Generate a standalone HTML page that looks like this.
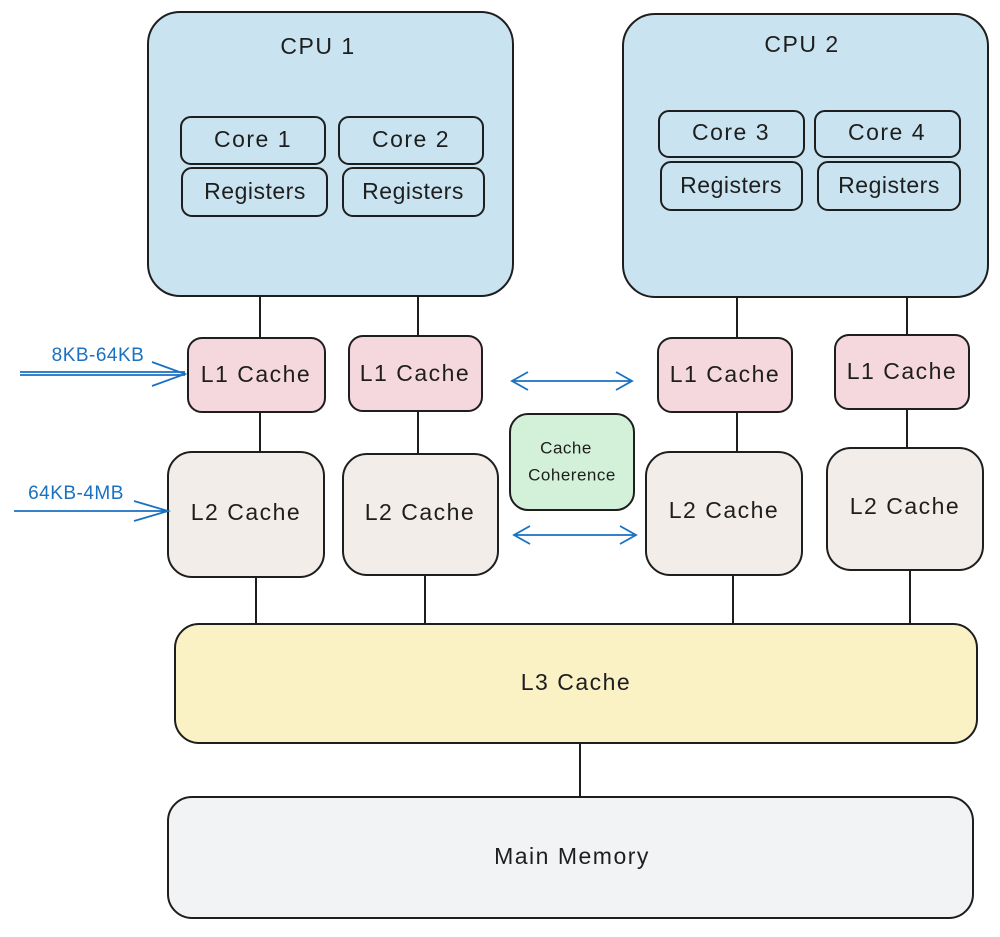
<!DOCTYPE html>
<html><head><meta charset="utf-8"><style>
body{margin:0;background:#fff}
svg text{font-family:"Liberation Sans",sans-serif;fill:#1e1e1e;text-anchor:middle;dominant-baseline:middle;letter-spacing:1.5px}
</style></head><body>
<svg width="1000" height="932" viewBox="0 0 1000 932" xmlns="http://www.w3.org/2000/svg">
<g stroke="#1e1e1e" stroke-width="2">
<line x1="260" y1="216" x2="260" y2="338"/><line x1="260" y1="412" x2="260" y2="452"/><line x1="256" y1="577" x2="256" y2="624"/>
<line x1="418" y1="216" x2="418" y2="336"/><line x1="418" y1="411" x2="418" y2="454"/><line x1="425" y1="575" x2="425" y2="624"/>
<line x1="737" y1="210" x2="737" y2="338"/><line x1="737" y1="412" x2="737" y2="452"/><line x1="733" y1="575" x2="733" y2="624"/>
<line x1="907" y1="210" x2="907" y2="335"/><line x1="907" y1="409" x2="907" y2="448"/><line x1="910" y1="570" x2="910" y2="624"/>
<line x1="580" y1="743" x2="580" y2="797"/>
<rect x="148" y="12" width="365" height="284" rx="32" fill="#c9e4f0"/>
<rect x="623" y="14" width="365" height="283" rx="32" fill="#c9e4f0"/>
<rect x="181" y="117" width="144" height="47" rx="10" fill="#c9e4f0"/>
<rect x="339" y="117" width="144" height="47" rx="10" fill="#c9e4f0"/>
<rect x="182" y="168" width="145" height="48" rx="10" fill="#c9e4f0"/>
<rect x="343" y="168" width="141" height="48" rx="10" fill="#c9e4f0"/>
<rect x="659" y="111" width="145" height="46" rx="10" fill="#c9e4f0"/>
<rect x="815" y="111" width="145" height="46" rx="10" fill="#c9e4f0"/>
<rect x="661" y="162" width="141" height="48" rx="10" fill="#c9e4f0"/>
<rect x="818" y="162" width="142" height="48" rx="10" fill="#c9e4f0"/>
<rect x="188" y="338" width="137" height="74" rx="14" fill="#f4d8dd"/>
<rect x="349" y="336" width="133" height="75" rx="14" fill="#f4d8dd"/>
<rect x="658" y="338" width="134" height="74" rx="14" fill="#f4d8dd"/>
<rect x="835" y="335" width="134" height="74" rx="14" fill="#f4d8dd"/>
<rect x="168" y="452" width="156" height="125" rx="24" fill="#f2ede8"/>
<rect x="343" y="454" width="155" height="121" rx="24" fill="#f2ede8"/>
<rect x="646" y="452" width="156" height="123" rx="24" fill="#f2ede8"/>
<rect x="827" y="448" width="156" height="122" rx="24" fill="#f2ede8"/>
<rect x="510" y="414" width="124" height="96" rx="18" fill="#d3f0d9"/>
<rect x="175" y="624" width="802" height="119" rx="24" fill="#faf2c4"/>
<rect x="168" y="797" width="805" height="121" rx="24" fill="#f1f3f5"/>
</g>
<g stroke="#1971c2" stroke-width="1.8" fill="none">
<path d="M512 381H632M528 372L512 381L528 390M616 372L632 381L616 390"/>
<path d="M514 535H636M530 526L514 535L530 544M620 526L636 535L620 544"/>
<path d="M20 372H185M20 375H185M152 362L185 374L152 386"/>
<path d="M14 511H168M134 501L168 511L134 521"/>
</g>
<text x="98" y="356" font-size="19" style="fill:#1971c2;letter-spacing:0.5px">8KB-64KB</text>
<text x="76" y="494" font-size="19" style="fill:#1971c2;letter-spacing:0.5px">64KB-4MB</text>
<g font-size="23">
<text x="318" y="48">CPU 1</text><text x="802" y="46">CPU 2</text>
<text x="253" y="141">Core 1</text><text x="411" y="141">Core 2</text>
<text x="731" y="134">Core 3</text><text x="887" y="134">Core 4</text>
<text x="255" y="193" style="letter-spacing:0.5px">Registers</text><text x="413" y="193" style="letter-spacing:0.5px">Registers</text>
<text x="731" y="187" style="letter-spacing:0.5px">Registers</text><text x="889" y="187" style="letter-spacing:0.5px">Registers</text>
<text x="256" y="376">L1 Cache</text><text x="415" y="375">L1 Cache</text>
<text x="725" y="376">L1 Cache</text><text x="902" y="373">L1 Cache</text>
<text x="246" y="514">L2 Cache</text><text x="420" y="514">L2 Cache</text>
<text x="724" y="512">L2 Cache</text><text x="905" y="508">L2 Cache</text>
<text x="576" y="684">L3 Cache</text><text x="572" y="858">Main Memory</text>
<text x="566" y="449" font-size="17" style="letter-spacing:0.5px">Cache</text><text x="572" y="476" font-size="17" style="letter-spacing:0.5px">Coherence</text>
</g>
</svg>
</body></html>
